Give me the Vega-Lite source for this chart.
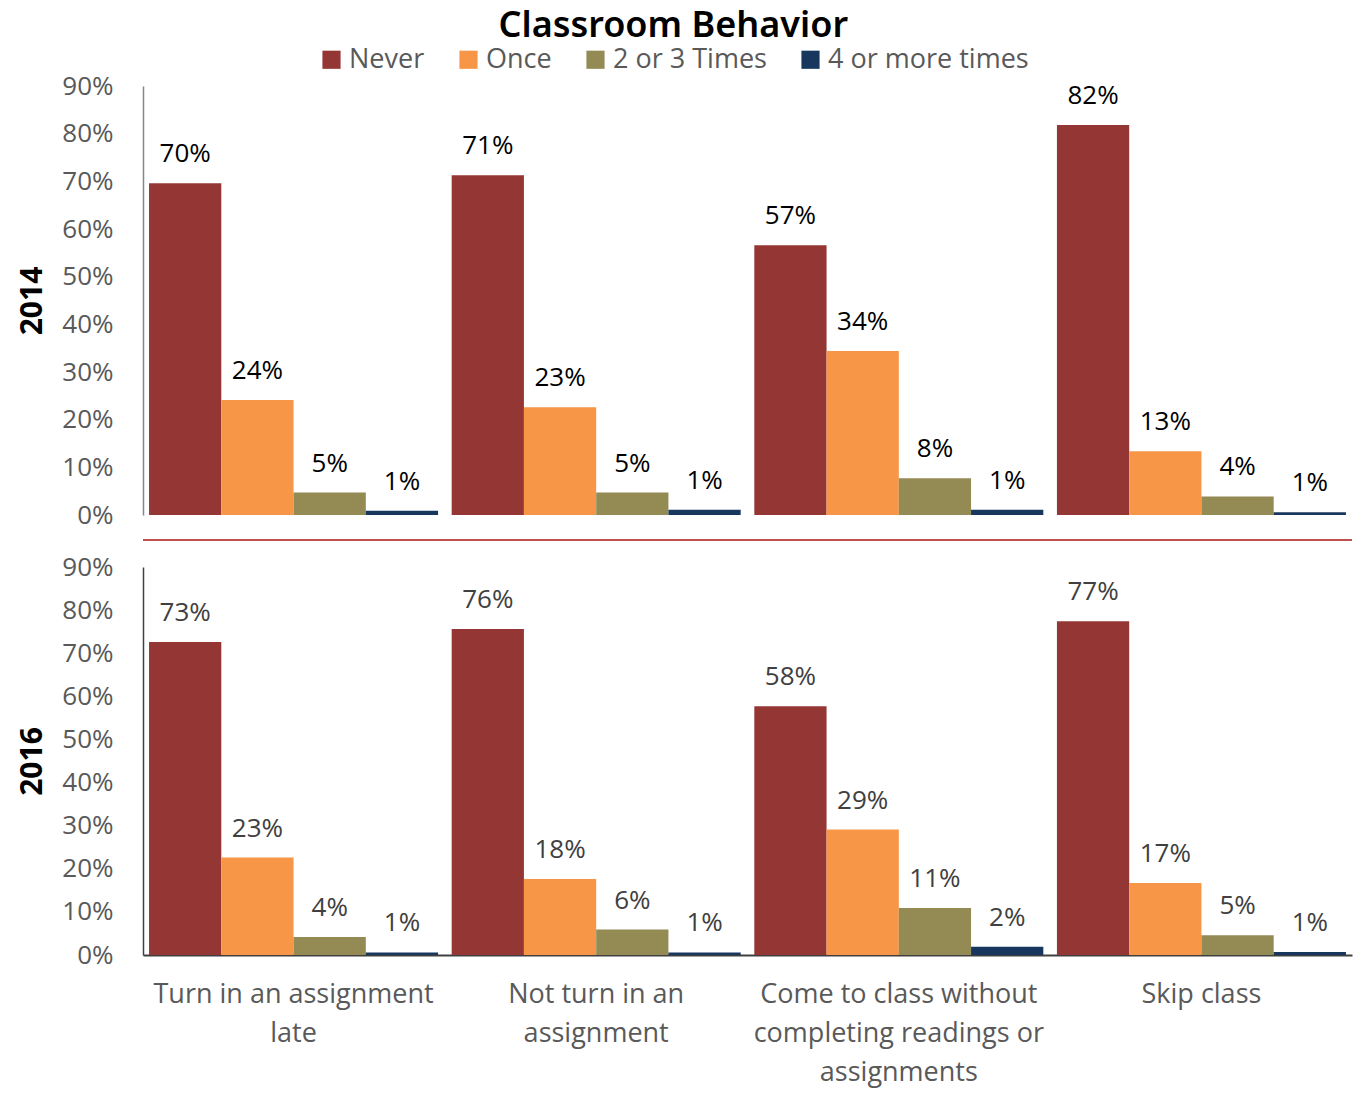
{
  "$schema": "https://vega.github.io/schema/vega-lite/v6.json",
  "padding": {"left": 17, "top": 8, "right": 4, "bottom": 5},
  "title": {"text": "Classroom Behavior", "fontSize": 36, "font": "Noto Sans", "fontWeight": 600, "color": "#000000", "anchor": "middle", "offset": 1, "dx": -12},
  "datasets": {
    "rows": [
      {"year": "2014", "cat": "Turn in an assignment|late", "series": "Never", "value": 0.696},
      {"year": "2014", "cat": "Turn in an assignment|late", "series": "Once", "value": 0.241},
      {"year": "2014", "cat": "Turn in an assignment|late", "series": "2 or 3 Times", "value": 0.047},
      {"year": "2014", "cat": "Turn in an assignment|late", "series": "4 or more times", "value": 0.009},
      {"year": "2014", "cat": "Not turn in an|assignment", "series": "Never", "value": 0.713},
      {"year": "2014", "cat": "Not turn in an|assignment", "series": "Once", "value": 0.226},
      {"year": "2014", "cat": "Not turn in an|assignment", "series": "2 or 3 Times", "value": 0.047},
      {"year": "2014", "cat": "Not turn in an|assignment", "series": "4 or more times", "value": 0.011},
      {"year": "2014", "cat": "Come to class without|completing readings or|assignments", "series": "Never", "value": 0.566},
      {"year": "2014", "cat": "Come to class without|completing readings or|assignments", "series": "Once", "value": 0.344},
      {"year": "2014", "cat": "Come to class without|completing readings or|assignments", "series": "2 or 3 Times", "value": 0.077},
      {"year": "2014", "cat": "Come to class without|completing readings or|assignments", "series": "4 or more times", "value": 0.011},
      {"year": "2014", "cat": "Skip class", "series": "Never", "value": 0.818},
      {"year": "2014", "cat": "Skip class", "series": "Once", "value": 0.134},
      {"year": "2014", "cat": "Skip class", "series": "2 or 3 Times", "value": 0.039},
      {"year": "2014", "cat": "Skip class", "series": "4 or more times", "value": 0.006},
      {"year": "2016", "cat": "Turn in an assignment|late", "series": "Never", "value": 0.726},
      {"year": "2016", "cat": "Turn in an assignment|late", "series": "Once", "value": 0.226},
      {"year": "2016", "cat": "Turn in an assignment|late", "series": "2 or 3 Times", "value": 0.042},
      {"year": "2016", "cat": "Turn in an assignment|late", "series": "4 or more times", "value": 0.006},
      {"year": "2016", "cat": "Not turn in an|assignment", "series": "Never", "value": 0.756},
      {"year": "2016", "cat": "Not turn in an|assignment", "series": "Once", "value": 0.176},
      {"year": "2016", "cat": "Not turn in an|assignment", "series": "2 or 3 Times", "value": 0.059},
      {"year": "2016", "cat": "Not turn in an|assignment", "series": "4 or more times", "value": 0.006},
      {"year": "2016", "cat": "Come to class without|completing readings or|assignments", "series": "Never", "value": 0.577},
      {"year": "2016", "cat": "Come to class without|completing readings or|assignments", "series": "Once", "value": 0.291},
      {"year": "2016", "cat": "Come to class without|completing readings or|assignments", "series": "2 or 3 Times", "value": 0.109},
      {"year": "2016", "cat": "Come to class without|completing readings or|assignments", "series": "4 or more times", "value": 0.019},
      {"year": "2016", "cat": "Skip class", "series": "Never", "value": 0.774},
      {"year": "2016", "cat": "Skip class", "series": "Once", "value": 0.167},
      {"year": "2016", "cat": "Skip class", "series": "2 or 3 Times", "value": 0.046},
      {"year": "2016", "cat": "Skip class", "series": "4 or more times", "value": 0.007}
    ]
  },
  "data": {"name": "rows"},
  "spacing": 13,
  "vconcat": [
    {
      "width": 1209,
      "height": 429,
      "transform": [{"filter": "datum.year === '2014'"}],
      "encoding": {
        "x": {"field": "cat", "type": "nominal", "sort": null, "axis": null,
              "scale": {"paddingInner": 0.045, "paddingOuter": 0.02}},
        "xOffset": {"field": "series", "type": "nominal", "sort": ["Never", "Once", "2 or 3 Times", "4 or more times"], "scale": {"paddingInner": 0, "paddingOuter": 0}},
        "y": {"field": "value", "type": "quantitative",
              "scale": {"domain": [0, 0.9], "nice": false, "zero": true},
              "axis": {"title": "2014", "values": [0, 0.1, 0.2, 0.3, 0.4, 0.5, 0.6, 0.7, 0.8, 0.9], "format": ".0%", "domainColor": "#868686", "domainWidth": 1.5}}
      },
      "layer": [
        {"mark": {"type": "bar"},
         "encoding": {"color": {"field": "series", "type": "nominal",
            "scale": {"domain": ["Never", "Once", "2 or 3 Times", "4 or more times"], "range": ["#943634", "#F79646", "#948A54", "#17375E"]},
            "legend": {"title": null, "orient": "none", "legendX": 175, "legendY": -40, "direction": "horizontal", "symbolType": "square", "symbolSize": 330, "labelFontSize": 27, "labelColor": "#595959", "labelFont": "Open Sans", "labelLimit": 400, "columnPadding": 30, "symbolStrokeWidth": 0}}}},
        {"mark": {"type": "text", "baseline": "bottom", "dy": -16, "fontSize": 26, "font": "Open Sans", "color": "#000000"},
         "encoding": {"text": {"field": "value", "type": "quantitative", "format": ".0%"}}},
        {"mark": {"type": "rule", "color": "#C0504D", "strokeWidth": 1.5},
         "encoding": {"y": {"datum": -0.052}, "x": null, "xOffset": null}}
      ]
    },
    {
      "width": 1209,
      "height": 388,
      "transform": [{"filter": "datum.year === '2016'"}],
      "encoding": {
        "x": {"field": "cat", "type": "nominal", "sort": null,
              "scale": {"paddingInner": 0.045, "paddingOuter": 0.02},
              "axis": {"title": null, "labelAngle": 0, "ticks": false, "domainColor": "#404040", "domainWidth": 2, "labelFontSize": 27, "labelColor": "#595959", "labelFont": "Open Sans", "labelPadding": 26, "labelLineHeight": 39, "labelLimit": 400, "labelBaseline": "top", "labelExpr": "split(datum.value, '|')"}},
        "xOffset": {"field": "series", "type": "nominal", "sort": ["Never", "Once", "2 or 3 Times", "4 or more times"], "scale": {"paddingInner": 0, "paddingOuter": 0}},
        "y": {"field": "value", "type": "quantitative",
              "scale": {"domain": [0, 0.9], "nice": false, "zero": true},
              "axis": {"title": "2016", "values": [0, 0.1, 0.2, 0.3, 0.4, 0.5, 0.6, 0.7, 0.8, 0.9], "format": ".0%", "domainColor": "#404040", "domainWidth": 1.5}}
      },
      "layer": [
        {"mark": {"type": "bar"},
         "encoding": {"color": {"field": "series", "type": "nominal",
            "scale": {"domain": ["Never", "Once", "2 or 3 Times", "4 or more times"], "range": ["#943634", "#F79646", "#948A54", "#17375E"]}}}},
        {"mark": {"type": "text", "baseline": "bottom", "dy": -16, "fontSize": 26, "font": "Open Sans", "color": "#404040"},
         "encoding": {"text": {"field": "value", "type": "quantitative", "format": ".0%"}}}
      ]
    }
  ],
  "config": {
    "view": {"stroke": null},
    "axisY": {"ticks": false, "grid": false, "labelFontSize": 26, "labelColor": "#595959", "labelFont": "Open Sans", "labelPadding": 30, "titleFontSize": 30, "titleFont": "Open Sans", "titleFontWeight": "bold", "titleColor": "#000000", "titlePadding": 14}
  }
}
